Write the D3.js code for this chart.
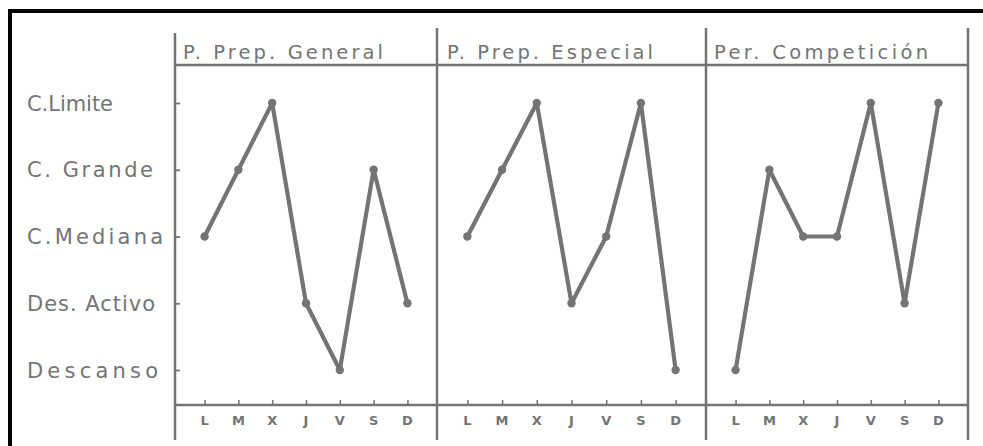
<!DOCTYPE html>
<html><head><meta charset="utf-8">
<script src="https://cdn.jsdelivr.net/npm/d3@7"></script>
<style>html,body{margin:0;padding:0;background:#fff;overflow:hidden}</style>
</head><body>
<svg id="chart" width="983" height="446"></svg>
<script>
const days = ["L","M","X","J","V","S","D"];
const levels = ["Descanso","Des. Activo","C.Mediana","C. Grande","C.Limite"];
const periods = ["P. Prep. General","P. Prep. Especial","Per. Competición"];
const generalValues  = ["C.Mediana","C. Grande","C.Limite","Des. Activo","Descanso","C. Grande","Des. Activo"];
const especialValues = ["C.Mediana","C. Grande","C.Limite","Des. Activo","C.Mediana","C.Limite","Descanso"];
const competValues   = ["Descanso","C. Grande","C.Mediana","C.Mediana","C.Limite","Des. Activo","C.Limite"];
const seriesList = [generalValues, especialValues, competValues];

const svg = d3.select("#chart");
const ink = "#747474";
const textInk = "#747474";
const font = "'DejaVu Sans', sans-serif";

// frame
svg.append("rect").attr("x",8).attr("y",9).attr("width",983).attr("height",4).attr("fill","#000");
svg.append("rect").attr("x",8).attr("y",9).attr("width",4).attr("height",446).attr("fill","#000");

const y = d3.scalePoint().domain(levels).range([370,103]);
const bounds = [175, 437, 706, 968];
const headerY = 65, axisY = 405;

// vertical lines
const vLines = [{x:175,y1:33},{x:437,y1:28},{x:706,y1:28},{x:968,y1:28}];
svg.selectAll("line.v").data(vLines).enter().append("line")
  .attr("x1",d=>d.x).attr("x2",d=>d.x).attr("y1",d=>d.y1).attr("y2",440)
  .attr("stroke",ink).attr("stroke-width",2.5);
// header line & bottom axis line
svg.append("line").attr("x1",175).attr("x2",968).attr("y1",headerY).attr("y2",headerY).attr("stroke",ink).attr("stroke-width",2.5);
svg.append("line").attr("x1",175).attr("x2",968).attr("y1",axisY).attr("y2",axisY).attr("stroke",ink).attr("stroke-width",2.5);

// y axis
const yAxis = svg.append("g").attr("transform","translate(175,0)")
  .call(d3.axisRight(y).tickSize(5).tickFormat(""));
yAxis.select(".domain").remove();
yAxis.selectAll(".tick line").attr("stroke",ink).attr("stroke-width",1.8);

const yLabelWidths = {"Descanso":131,"Des. Activo":128,"C.Mediana":136,"C. Grande":126,"C.Limite":86};
svg.selectAll("text.ylab").data(levels).enter().append("text")
  .attr("class","ylab")
  .attr("x",27).attr("y",d=>y(d)+7.5)
  .attr("font-family",font).attr("font-size",21).attr("fill",textInk)
  .attr("textLength",d=>yLabelWidths[d]).attr("lengthAdjust","spacing")
  .text(d=>d);

const titleWidths = [200, 206, 214];
const titleX = [183, 447, 714];

periods.forEach((p,i)=>{
  const x = d3.scalePoint().domain(days).range([bounds[i],bounds[i+1]]).padding(0.875);
  // title
  svg.append("text").attr("x",titleX[i]).attr("y",59)
    .attr("font-family",font).attr("font-size",19.5).attr("fill",textInk)
    .attr("textLength",titleWidths[i]).attr("lengthAdjust","spacing")
    .text(p);
  // x axis ticks
  const xa = svg.append("g").attr("transform",`translate(0,${axisY})`)
    .call(d3.axisTop(x).tickSize(5).tickFormat(""));
  xa.select(".domain").remove();
  xa.selectAll(".tick line").attr("stroke",ink).attr("stroke-width",1.5);
  svg.selectAll(null).data(days).enter().append("text")
    .attr("x",d=>x(d)).attr("y",425)
    .attr("text-anchor","middle")
    .attr("font-family",font).attr("font-size",13).attr("font-weight","bold").attr("fill",textInk)
    .text(d=>d);
  // line
  const vals = seriesList[i];
  const pts = days.map((d,j)=>({d, v: vals[j]}));
  const line = d3.line().x(d=>x(d.d)).y(d=>y(d.v));
  svg.append("path").datum(pts).attr("d",line)
    .attr("fill","none").attr("stroke",ink).attr("stroke-width",4.2)
    .attr("stroke-linecap","round").attr("stroke-linejoin","round");
  svg.selectAll(null).data(pts).enter().append("circle")
    .attr("cx",d=>x(d.d)).attr("cy",d=>y(d.v)).attr("r",4.2).attr("fill",ink);
});
</script>
</body></html>
